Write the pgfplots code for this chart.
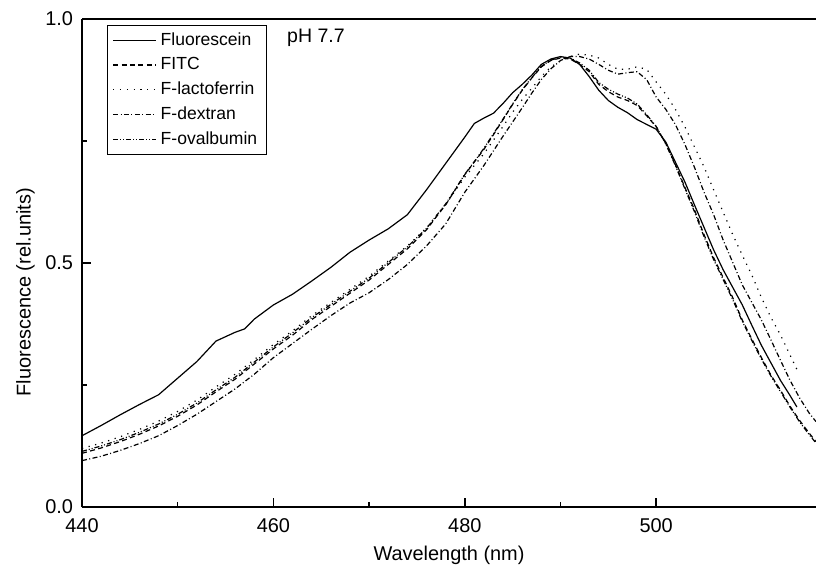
\documentclass[border=0pt]{standalone}
\usepackage{fontspec}
\setmainfont{Liberation Sans}
\usepackage{pgfplots}
\pgfplotsset{compat=1.18}

\begin{document}
\begin{tikzpicture}
\begin{axis}[
    scale only axis,
    width=367bp, height=244bp,
    xmin=440, xmax=516.7,
    ymin=0, ymax=1,
    enlargelimits=false,
    every non boxed y axis/.style={},
    axis x line=box, axis y line=left,
    x axis line style={-}, y axis line style={-},
    axis line style={line width=1bp},
    tick align=inside,
    xtick pos=bottom, ytick pos=left,
    xtick={440,460,480,500}, minor x tick num=1,
    ytick={0,0.5,1}, minor y tick num=1,
    major tick length=4.5bp, minor tick length=2.5bp,
    tick style={line width=0.8bp, black},
    /pgf/number format/assume math mode=true,
    ticklabel style={font=\fontsize{10}{12}\selectfont},
    xticklabel style={yshift=-2.5bp},
    yticklabel style={xshift=-1bp, /pgf/number format/.cd, fixed, fixed zerofill, precision=1},
    xlabel={Wavelength (nm)},
    ylabel={Fluorescence (rel.units)},
    label style={font=\fontsize{10}{12}\selectfont},
    xlabel style={at={(axis description cs:0.5,-0.1)}, anchor=center},
    ylabel style={at={(axis description cs:-0.077,0.44)}, anchor=center},
    legend style={at={(0.034,0.988)}, anchor=north west,
        font=\fontsize{8.8}{10.5}\selectfont, draw=black, line width=0.6bp,
        inner xsep=2.5bp, inner ysep=1.5bp, row sep=0.6bp, cells={anchor=west}},
    legend image code/.code={\draw[#1] (0bp,0bp) -- (21.5bp,0bp);},
    every axis plot/.append style={black, line width=0.6bp},
]

% Fluorescein
\addplot[solid] coordinates {
(440,0.146) (442,0.167) (444,0.189) (446,0.210) (448,0.230) (450,0.264)
(452,0.298) (454,0.340) (456,0.358) (457,0.365) (458,0.385) (460,0.414)
(462,0.436) (464,0.463) (466,0.491) (468,0.522) (470,0.547) (472,0.570)
(474,0.599) (476,0.650) (478,0.704) (480,0.758) (481,0.786) (482,0.797)
(483,0.807) (484,0.827) (485,0.849) (486,0.866) (487,0.885) (488,0.907)
(489,0.918) (490,0.923) (491,0.920) (492,0.907) (493,0.882) (494,0.854)
(495,0.833) (496,0.819) (497,0.808) (498,0.794) (499,0.784) (500,0.774)
(501,0.748) (502,0.707) (503,0.666) (504,0.619) (505,0.573) (506,0.527)
(507,0.486) (508,0.450) (509,0.414) (510,0.372) (511,0.331) (512,0.295)
(513,0.259) (514,0.228) (514.7,0.205)
};
\addlegendentry{Fluorescein}

% FITC
\addplot[dash pattern=on 2.5bp off 1.7bp] coordinates {
(440,0.110) (442,0.121) (444,0.134) (446,0.149) (448,0.166) (450,0.186)
(452,0.209) (454,0.236) (456,0.262) (458,0.293) (460,0.324) (462,0.352)
(464,0.384) (466,0.411) (468,0.438) (470,0.465) (472,0.497) (474,0.529)
(476,0.568) (477,0.594) (478,0.619) (479,0.650) (480,0.681) (481,0.707)
(482,0.733) (483,0.763) (484,0.794) (485,0.825) (486,0.854) (487,0.879)
(488,0.902) (489,0.915) (490,0.920) (491,0.918) (492,0.907) (493,0.892)
(494,0.866) (495,0.851) (496,0.840) (497,0.833) (498,0.823) (499,0.802)
(500,0.779) (501,0.745) (502,0.702) (503,0.655) (504,0.609) (505,0.558)
(506,0.511) (507,0.470) (508,0.429) (509,0.383) (510,0.344) (511,0.306)
(512,0.270) (513,0.239) (514,0.206) (515,0.177) (516,0.151) (516.7,0.134)
};
\addlegendentry{FITC}

% F-lactoferrin
\addplot[dash pattern=on 0.6bp off 2.8bp] coordinates {
(440,0.120) (442,0.131) (444,0.144) (446,0.159) (448,0.176) (450,0.196)
(452,0.219) (454,0.246) (456,0.272) (458,0.302) (460,0.333) (462,0.361)
(464,0.392) (466,0.419) (468,0.446) (470,0.473) (472,0.504) (474,0.535)
(476,0.572) (478,0.620) (480,0.676) (482,0.724) (484,0.780) (485,0.809)
(486,0.835) (487,0.858) (488,0.882) (489,0.902) (490,0.914) (491,0.923)
(492,0.928) (493,0.926) (494,0.920) (495,0.907) (496,0.897) (497,0.897)
(498,0.902) (499,0.897) (500,0.871) (501,0.846) (502,0.815) (503,0.779)
(504,0.738) (505,0.697) (506,0.650) (507,0.604) (508,0.558) (509,0.516)
(510,0.475) (511,0.429) (512,0.388) (513,0.352) (514,0.311) (514.7,0.282)
};
\addlegendentry{F-lactoferrin}

% F-dextran
\addplot[dash pattern=on 2.5bp off 1.2bp on 0.5bp off 1.2bp] coordinates {
(440,0.095) (442,0.104) (444,0.116) (446,0.130) (448,0.146) (450,0.167)
(452,0.190) (454,0.216) (456,0.242) (458,0.272) (460,0.306) (462,0.335)
(464,0.364) (466,0.392) (468,0.418) (470,0.439) (472,0.466) (474,0.497)
(476,0.535) (478,0.580) (480,0.645) (482,0.700) (484,0.760) (485,0.789)
(486,0.818) (487,0.848) (488,0.876) (489,0.898) (490,0.915) (491,0.923)
(492,0.923) (493,0.918) (494,0.907) (495,0.895) (496,0.887) (497,0.890)
(498,0.892) (499,0.876) (500,0.840) (501,0.815) (502,0.784) (503,0.743)
(504,0.696) (505,0.645) (506,0.599) (507,0.547) (508,0.501) (509,0.455)
(510,0.419) (511,0.383) (512,0.342) (513,0.300) (514,0.259) (515,0.223)
(516,0.192) (516.7,0.175)
};
\addlegendentry{F-dextran}

% F-ovalbumin
\addplot[dash pattern=on 2.5bp off 1bp on 0.5bp off 1bp on 0.5bp off 1bp] coordinates {
(440,0.114) (442,0.125) (444,0.138) (446,0.153) (448,0.170) (450,0.190)
(452,0.213) (454,0.240) (456,0.266) (458,0.297) (460,0.328) (462,0.357)
(464,0.388) (466,0.415) (468,0.442) (470,0.469) (472,0.501) (474,0.533)
(476,0.571) (477,0.596) (478,0.621) (479,0.651) (480,0.682) (481,0.708)
(482,0.735) (483,0.765) (484,0.795) (485,0.826) (486,0.855) (487,0.880)
(488,0.903) (489,0.916) (490,0.921) (491,0.920) (492,0.910) (493,0.895)
(494,0.870) (495,0.856) (496,0.846) (497,0.838) (498,0.826) (499,0.804)
(500,0.780) (501,0.744) (502,0.700) (503,0.652) (504,0.605) (505,0.554)
(506,0.507) (507,0.466) (508,0.425) (509,0.380) (510,0.341) (511,0.303)
(512,0.268) (513,0.236) (514,0.204) (515,0.174) (516,0.148) (516.7,0.131)
};
\addlegendentry{F-ovalbumin}

\node[anchor=west, font=\fontsize{9.8}{11}\selectfont] at (rel axis cs:0.27,0.961) {pH 7.7};

\coordinate (sw) at (rel axis cs:0,0);
\coordinate (ne) at (rel axis cs:1,1);
\end{axis}
\pgfresetboundingbox
\path[use as bounding box] ([xshift=-41bp,yshift=-33bp]sw) rectangle ([yshift=9.5bp]ne);
\end{tikzpicture}
\end{document}
